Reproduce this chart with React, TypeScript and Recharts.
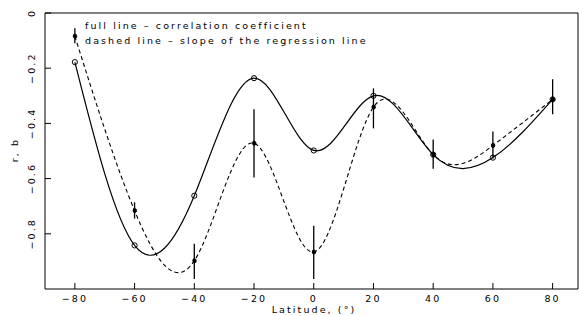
import { ComposedChart, Line, XAxis, YAxis, ErrorBar } from "recharts";

const latitudes = [-80, -60, -40, -20, 0, 20, 40, 60, 80];
// full line: correlation coefficient r
const corrCoef = [-0.178, -0.842, -0.662, -0.236, -0.498, -0.3, -0.513, -0.524, -0.313];
// dashed line: slope b of the regression line, with error bar ends
const slope = [-0.084, -0.716, -0.898, -0.472, -0.866, -0.341, -0.513, -0.48, -0.313];
const slopeLow = [-0.11, -0.745, -0.964, -0.596, -0.964, -0.418, -0.564, -0.527, -0.367];
const slopeHigh = [-0.055, -0.686, -0.836, -0.349, -0.771, -0.273, -0.458, -0.429, -0.24];

const xTicks = [-80, -60, -40, -20, 0, 20, 40, 60, 80];
const yTicks = [0, -0.2, -0.4, -0.6, -0.8];

const data = latitudes.map((lat, i) => ({
  lat,
  r: corrCoef[i],
  b: slope[i],
  bErr: [slope[i] - slopeLow[i], slopeHigh[i] - slope[i]],
}));

const FONT = "DejaVu Sans";
const minus = (s: string) => s.replace("-", "\u2212");
const txt = { fontFamily: FONT, fontSize: 9.5, letterSpacing: 2.1, fill: "#000" };

const XTick = (props: any) => {
  const { x, y, payload } = props;
  return (
    <text x={x} y={y} textAnchor="middle" {...txt}>
      {minus(String(payload.value))}
    </text>
  );
};

const YTick = (props: any) => {
  const { x, y, payload } = props;
  const label = payload.value === 0 ? "0" : minus(payload.value.toFixed(1));
  return (
    <text x={x} y={y} transform={`rotate(-90, ${x}, ${y})`} textAnchor="middle" {...txt}>
      {label}
    </text>
  );
};

export default function App() {
  return (
    <div style={{ position: "absolute", left: 0, top: 0, width: 579, height: 316, background: "#fff" }}>
      <ComposedChart width={579} height={316} data={data} margin={{ top: 12, right: 0, bottom: 0, left: 0 }}>
        <XAxis
          dataKey="lat"
          type="number"
          domain={[-90, 88.5]}
          ticks={xTicks}
          allowDataOverflow
          height={27}
          tickSize={-6}
          tickMargin={18.5}
          tick={<XTick />}
          axisLine={{ stroke: "#000" }}
          tickLine={{ stroke: "#000" }}
        />
        <XAxis
          xAxisId="top"
          orientation="top"
          dataKey="lat"
          type="number"
          domain={[-90, 88.5]}
          ticks={xTicks}
          allowDataOverflow
          height={1}
          tickSize={-6}
          tick={false}
          axisLine={{ stroke: "#000" }}
          tickLine={{ stroke: "#000" }}
        />
        <YAxis
          type="number"
          domain={[-1, 0]}
          ticks={yTicks}
          allowDataOverflow
          width={45}
          tickSize={-6}
          tickMargin={16}
          tick={<YTick />}
          axisLine={{ stroke: "#000" }}
          tickLine={{ stroke: "#000" }}
        />
        <YAxis
          yAxisId="right"
          orientation="right"
          type="number"
          domain={[-1, 0]}
          ticks={yTicks}
          allowDataOverflow
          width={1}
          tickSize={-6}
          tick={false}
          axisLine={{ stroke: "#000" }}
          tickLine={{ stroke: "#000" }}
        />
        <Line
          type="natural"
          dataKey="r"
          stroke="#000"
          strokeWidth={1.2}
          dot={{ r: 2.6, fill: "none", stroke: "#000", strokeWidth: 1 }}
          isAnimationActive={false}
        />
        <Line
          type="natural"
          dataKey="b"
          stroke="#000"
          strokeWidth={1.1}
          strokeDasharray="4 3"
          dot={{ r: 2, fill: "#000", stroke: "#000", strokeWidth: 1 }}
          isAnimationActive={false}
        >
          <ErrorBar dataKey="bErr" direction="y" width={0} stroke="#000" strokeWidth={1.3} />
        </Line>
      </ComposedChart>
      <svg
        width={579}
        height={316}
        style={{ position: "absolute", left: 0, top: 0, pointerEvents: "none" }}
      >
        <text x={85} y={29} {...txt}>full line {"\u2013"} correlation coefficient</text>
        <text x={85} y={44} {...txt}>dashed line {"\u2013"} slope of the regression line</text>
        <text x={314} y={312.5} textAnchor="middle" {...txt}>Latitude, (°)</text>
        <text x={18} y={150} textAnchor="middle" transform="rotate(-90, 18, 150)" {...txt}>r, b</text>
      </svg>
    </div>
  );
}
